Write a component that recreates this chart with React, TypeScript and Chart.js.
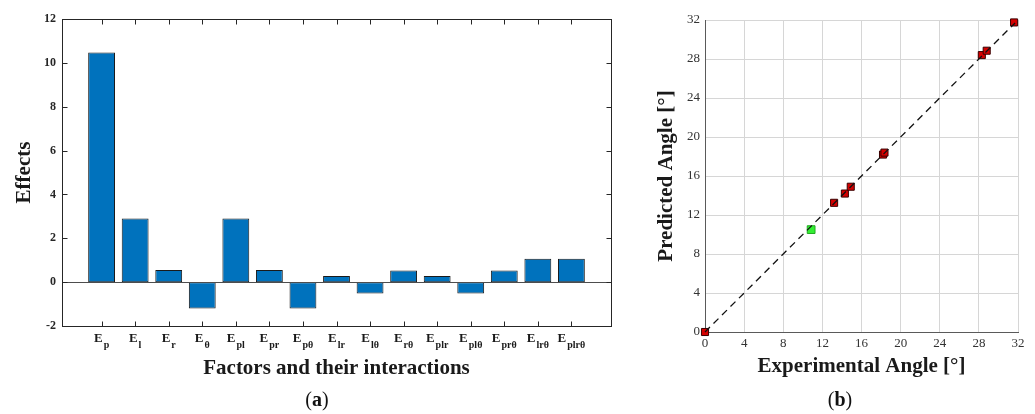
import React, { useEffect, useRef } from 'react';
import { Chart, registerables } from 'chart.js';

Chart.register(...registerables);

// ---------- Data: (a) effects of factors ----------
const factorBase = 'E';
const factorSubscripts = ['p', 'l', 'r', 'θ', 'pl', 'pr', 'pθ', 'lr', 'lθ', 'rθ', 'plr', 'plθ', 'prθ', 'lrθ', 'plrθ'];
const effectValues = [10.47, 2.9, 0.55, -1.2, 2.9, 0.55, -1.2, 0.28, -0.52, 0.53, 0.28, -0.52, 0.53, 1.07, 1.07];
const effectTickMin = -2;
const effectTickMax = 12;
const effectTickStep = 2;

// ---------- Data: (b) experimental vs predicted ----------
const experimentalAngles = [0, 13.2, 14.3, 14.9, 18.2, 18.35, 28.3, 28.8, 31.6];
const predictedAngles = [0, 13.25, 14.2, 14.9, 18.2, 18.4, 28.4, 28.85, 31.75];
const validationExperimental = [10.85];
const validationPredicted = [10.5];
const fitLineRange = [0, 31.7];
const angleTickMin = 0;
const angleTickMax = 32;
const angleTickStep = 4;

const SERIF = '"Liberation Serif", "Times New Roman", serif';

function drawCaption(ctx: CanvasRenderingContext2D, letter: string, cx: number, cy: number) {
  ctx.save();
  ctx.fillStyle = '#111';
  ctx.textBaseline = 'middle';
  const reg = `20px ${SERIF}`;
  const bold = `bold 20px ${SERIF}`;
  ctx.font = reg;
  const wp = ctx.measureText('(').width;
  const wq = ctx.measureText(')').width;
  ctx.font = bold;
  const wl = ctx.measureText(letter).width;
  let x = cx - (wp + wl + wq) / 2;
  ctx.textAlign = 'left';
  ctx.font = reg;
  ctx.fillText('(', x, cy);
  x += wp;
  ctx.font = bold;
  ctx.fillText(letter, x, cy);
  x += wl;
  ctx.font = reg;
  ctx.fillText(')', x, cy);
  ctx.restore();
}

const leftDecor = {
  id: 'leftDecor',
  afterDraw(chart: any) {
    const { ctx, chartArea: a, scales } = chart;
    const xs = scales.x;
    const ys = scales.y;
    const line = (x1: number, y1: number, x2: number, y2: number) => {
      ctx.beginPath();
      ctx.moveTo(x1, y1);
      ctx.lineTo(x2, y2);
      ctx.stroke();
    };
    ctx.save();
    ctx.lineWidth = 1;
    const L = Math.round(a.left) + 0.5;
    const R = Math.round(a.right) + 0.5;
    const T = Math.round(a.top) + 0.5;
    const B = Math.round(a.bottom) + 0.5;
    // zero baseline
    ctx.strokeStyle = '#4d4d4d';
    const y0 = Math.round(ys.getPixelForValue(0)) + 0.5;
    line(L, y0, R, y0);
    // frame
    ctx.strokeStyle = '#262626';
    ctx.strokeRect(L, T, R - L, B - T);
    // inner ticks
    factorSubscripts.forEach((_, i) => {
      const x = Math.round(xs.getPixelForValue(i)) + 0.5;
      line(x, T, x, T + 5);
      line(x, B, x, B - 5);
    });
    ys.ticks.forEach((t: any) => {
      const y = Math.round(ys.getPixelForValue(t.value)) + 0.5;
      line(L, y, L + 5, y);
      line(R, y, R - 5, y);
    });
    // category labels with subscripts
    ctx.fillStyle = '#1a1a1a';
    ctx.textBaseline = 'alphabetic';
    ctx.textAlign = 'left';
    const mainFont = `bold 13px ${SERIF}`;
    const subFont = `bold 10px ${SERIF}`;
    factorSubscripts.forEach((sub, i) => {
      const cx = xs.getPixelForValue(i);
      ctx.font = mainFont;
      const wm = ctx.measureText(factorBase).width;
      ctx.font = subFont;
      const ws = ctx.measureText(sub).width;
      const x0 = cx - (wm + ws + 1) / 2;
      ctx.font = mainFont;
      ctx.fillText(factorBase, x0, a.bottom + 16);
      ctx.font = subFont;
      ctx.fillText(sub, x0 + wm + 1, a.bottom + 22);
    });
    drawCaption(ctx, 'a', 317, 401);
    ctx.restore();
  },
};

const rightDecor = {
  id: 'rightDecor',
  afterDraw(chart: any) {
    drawCaption(chart.ctx, 'b', 200, 401);
  },
};

function EffectsChart() {
  const ref = useRef<HTMLCanvasElement>(null);
  useEffect(() => {
    const chart = new Chart(ref.current as HTMLCanvasElement, {
      type: 'bar',
      data: {
        datasets: [
          {
            data: effectValues.map((v, i) => ({ x: i, y: v })),
            backgroundColor: '#0072BD',
            borderColor: '#1a1a1a',
            borderWidth: 1,
            borderSkipped: false,
            barPercentage: 0.8,
            categoryPercentage: 1,
          } as any,
        ],
      },
      options: {
        responsive: false,
        animation: false,
        events: [],
        layout: { padding: { top: 19, right: 29, left: 0, bottom: 0 } },
        plugins: { legend: { display: false }, tooltip: { enabled: false } },
        scales: {
          x: {
            type: 'linear',
            offset: false,
            min: -1.18,
            max: factorSubscripts.length - 1 + 1.18,
            ticks: { display: false },
            grid: { display: false, drawTicks: false, offset: false },
            border: { display: false },
            title: {
              display: true,
              text: 'Factors and their interactions',
              color: '#1a1a1a',
              font: { family: SERIF, size: 21, weight: 'bold' },
              padding: { top: 0, bottom: 33 },
            },
            afterFit: (s: any) => {
              s.height = 88;
            },
          },
          y: {
            min: effectTickMin,
            max: effectTickMax,
            ticks: {
              stepSize: effectTickStep,
              color: '#262626',
              font: { family: SERIF, size: 12, weight: 'bold' },
              padding: 6,
            },
            grid: { display: false, drawTicks: false },
            border: { display: false },
            title: {
              display: true,
              text: 'Effects',
              color: '#1a1a1a',
              font: { family: SERIF, size: 21, weight: 'bold' },
              padding: { top: 12, bottom: 0 },
            },
            afterFit: (s: any) => {
              s.width = 62;
            },
          },
        },
      } as any,
      plugins: [leftDecor],
    });
    return () => chart.destroy();
  }, []);
  return <canvas ref={ref} width={640} height={414} style={{ position: 'absolute', left: 0, top: 0 }} />;
}

function AngleChart() {
  const ref = useRef<HTMLCanvasElement>(null);
  useEffect(() => {
    const chart = new Chart(ref.current as HTMLCanvasElement, {
      type: 'scatter',
      data: {
        datasets: [
          {
            type: 'line',
            data: fitLineRange.map((v) => ({ x: v, y: v })),
            borderColor: '#111',
            borderWidth: 1.3,
            borderDash: [7, 5],
            pointRadius: 0,
            fill: false,
            clip: false,
          } as any,
          {
            data: experimentalAngles.map((v, i) => ({ x: v, y: predictedAngles[i] })),
            pointStyle: 'rect',
            pointRadius: 5,
            backgroundColor: '#d40000',
            borderColor: '#3a0000',
            borderWidth: 1,
            clip: false,
          } as any,
          {
            data: validationExperimental.map((v, i) => ({ x: v, y: validationPredicted[i] })),
            pointStyle: 'rect',
            pointRadius: 5.5,
            backgroundColor: '#33ee33',
            borderColor: '#22aa22',
            borderWidth: 1,
            clip: false,
          } as any,
        ],
      },
      options: {
        responsive: false,
        animation: false,
        events: [],
        layout: { padding: { top: 20, right: 17, left: 0, bottom: 0 } },
        plugins: { legend: { display: false }, tooltip: { enabled: false } },
        scales: {
          x: {
            type: 'linear',
            min: angleTickMin,
            max: angleTickMax,
            ticks: {
              stepSize: angleTickStep,
              color: '#333',
              font: { family: SERIF, size: 13 },
              padding: 4,
            },
            grid: { color: '#d6d6d6', drawTicks: false },
            border: { color: '#5a5a5a' },
            title: {
              display: true,
              text: 'Experimental Angle [°]',
              color: '#1a1a1a',
              font: { family: SERIF, size: 21, weight: 'bold' },
              padding: { top: 0, bottom: 34.5 },
            },
            afterFit: (s: any) => {
              s.height = 82;
            },
          },
          y: {
            type: 'linear',
            min: angleTickMin,
            max: angleTickMax,
            ticks: {
              stepSize: angleTickStep,
              color: '#333',
              font: { family: SERIF, size: 13 },
              padding: 5,
            },
            grid: { color: '#d6d6d6', drawTicks: false },
            border: { color: '#5a5a5a' },
            title: {
              display: true,
              text: 'Predicted Angle [°]',
              color: '#1a1a1a',
              font: { family: SERIF, size: 21, weight: 'bold' },
              padding: { top: 14, bottom: 0 },
            },
            afterFit: (s: any) => {
              s.width = 65;
            },
          },
        },
      } as any,
      plugins: [rightDecor],
    });
    return () => chart.destroy();
  }, []);
  return <canvas ref={ref} width={395} height={414} style={{ position: 'absolute', left: 640, top: 0 }} />;
}

export default function App() {
  return (
    <div style={{ position: 'absolute', left: 0, top: 0, width: 1035, height: 414, background: '#fff' }}>
      <EffectsChart />
      <AngleChart />
    </div>
  );
}
